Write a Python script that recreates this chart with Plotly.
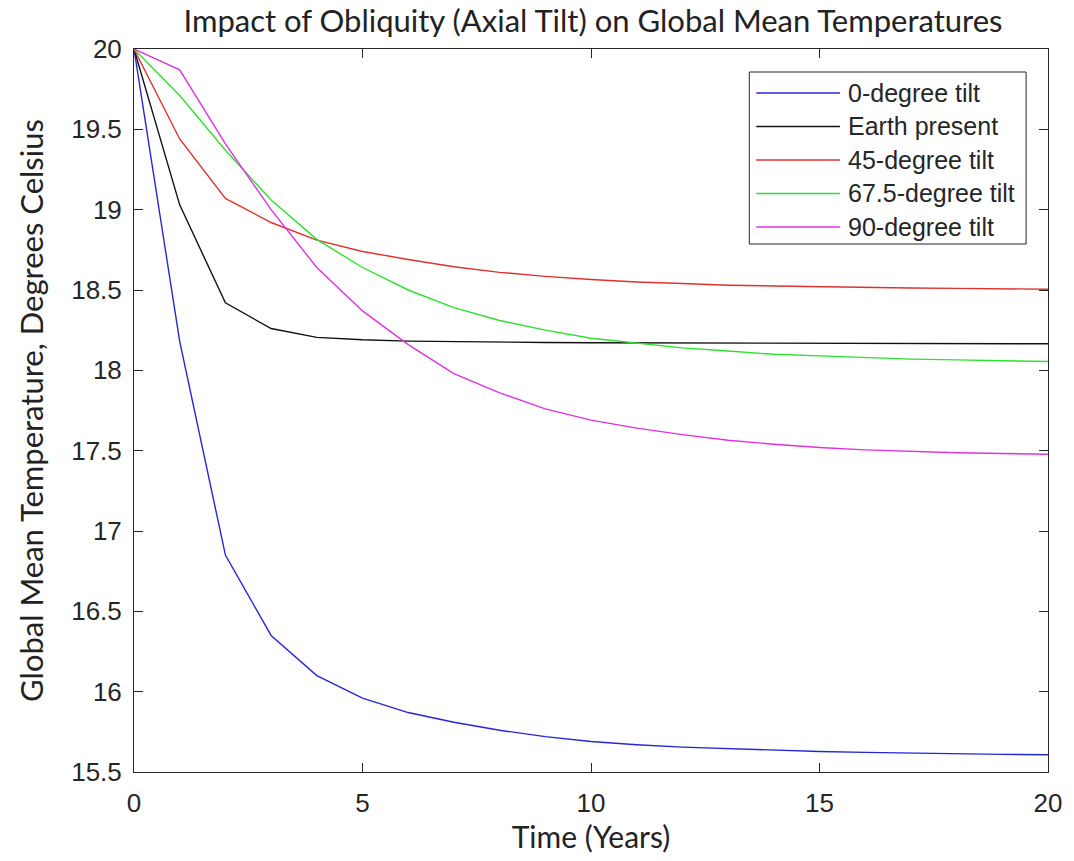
import plotly.graph_objects as go

# Simulated global mean temperature (deg C) for each year of the run
years = list(range(0, 21))

tilt_0 = [20.0, 18.18, 16.85, 16.35, 16.10, 15.96, 15.87, 15.81, 15.76, 15.72, 15.69,
          15.67, 15.655, 15.645, 15.635, 15.628, 15.622, 15.617, 15.613, 15.61, 15.607]
earth_present = [20.0, 19.03, 18.42, 18.26, 18.205, 18.19, 18.182, 18.178, 18.175, 18.173, 18.172,
                 18.171, 18.17, 18.169, 18.168, 18.168, 18.167, 18.167, 18.166, 18.166, 18.165]
tilt_45 = [20.0, 19.44, 19.07, 18.92, 18.81, 18.74, 18.69, 18.645, 18.61, 18.585, 18.565,
           18.55, 18.54, 18.53, 18.525, 18.52, 18.515, 18.512, 18.51, 18.508, 18.505]
tilt_67_5 = [20.0, 19.71, 19.37, 19.06, 18.815, 18.64, 18.50, 18.39, 18.31, 18.25, 18.20,
             18.17, 18.14, 18.12, 18.10, 18.09, 18.08, 18.07, 18.065, 18.06, 18.055]
tilt_90 = [20.0, 19.87, 19.41, 19.00, 18.64, 18.37, 18.16, 17.98, 17.86, 17.76, 17.69,
           17.64, 17.60, 17.565, 17.54, 17.52, 17.505, 17.495, 17.487, 17.482, 17.478]

series_names = ["0-degree tilt", "Earth present", "45-degree tilt", "67.5-degree tilt", "90-degree tilt"]
series_values = [tilt_0, earth_present, tilt_45, tilt_67_5, tilt_90]
series_colors = ["#2626d9", "#111111", "#e03030", "#2ee02e", "#e030e0"]

x_ticks = [0, 5, 10, 15, 20]
y_ticks = [15.5, 16, 16.5, 17, 17.5, 18, 18.5, 19, 19.5, 20]
y_tick_text = ["15.5", "16", "16.5", "17", "17.5", "18", "18.5", "19", "19.5", "20"]

fig = go.Figure()
for name, vals, col in zip(series_names, series_values, series_colors):
    fig.add_trace(go.Scatter(x=years, y=vals, mode="lines", name=name,
                             line=dict(color=col, width=1.4), showlegend=False))

W, H = 1074, 861
L, R, T, B = 134, 22, 49, 89
pw, ph = W - L - R, H - T - B


def px(x):
    return (x - L) / pw


def py(y):
    return (H - B - y) / ph


TICK_FONT = "Liberation Sans, Arial"
TITLE_FONT = "Lato, Open Sans"
TEXT_COLOR = "#222222"

# Legend box drawn in paper space (long line samples)
fig.add_shape(type="rect", xref="paper", yref="paper",
              x0=px(752), x1=px(1030), y0=py(244), y1=py(72),
              line=dict(color="#262626", width=1), fillcolor="white", layer="above")
for i, (name, col) in enumerate(zip(series_names, series_colors)):
    yc = 93 + i * 33.5
    fig.add_shape(type="line", xref="paper", yref="paper",
                  x0=px(759), x1=px(843), y0=py(yc), y1=py(yc),
                  line=dict(color=col, width=1.4), layer="above")
    fig.add_annotation(xref="paper", yref="paper", x=px(849), y=py(yc),
                       text=name, showarrow=False, xanchor="left", yanchor="middle",
                       font=dict(family=TICK_FONT, size=25, color="#262626"))

axis_common = dict(showline=True, linecolor="#262626", linewidth=1, mirror="ticks",
                   ticks="inside", ticklen=9, tickcolor="#262626", showgrid=False,
                   zeroline=False,
                   tickfont=dict(family=TICK_FONT, size=26, color="#262626"))

fig.update_xaxes(range=[0, 20], tickvals=x_ticks, ticklabelstandoff=8, **axis_common,
                 title=dict(text="Time (Years)", standoff=6,
                            font=dict(family=TITLE_FONT, size=30, color=TEXT_COLOR)))
fig.update_yaxes(range=[15.5, 20], tickvals=y_ticks, ticktext=y_tick_text,
                 ticklabelstandoff=6, **axis_common,
                 title=dict(text="Global Mean Temperature, Degrees Celsius", standoff=18,
                            font=dict(family=TITLE_FONT, size=31, color=TEXT_COLOR)))

fig.update_layout(
    width=W, height=H,
    margin=dict(l=L, r=R, t=T, b=B),
    paper_bgcolor="white", plot_bgcolor="white",
    title=dict(text="Impact of Obliquity (Axial Tilt) on Global Mean Temperatures",
               x=(L + pw / 2) / W, xanchor="center", y=1 - 21 / H, yanchor="middle",
               font=dict(family=TITLE_FONT, size=31, color=TEXT_COLOR)),
)

fig.write_html("out.html")
